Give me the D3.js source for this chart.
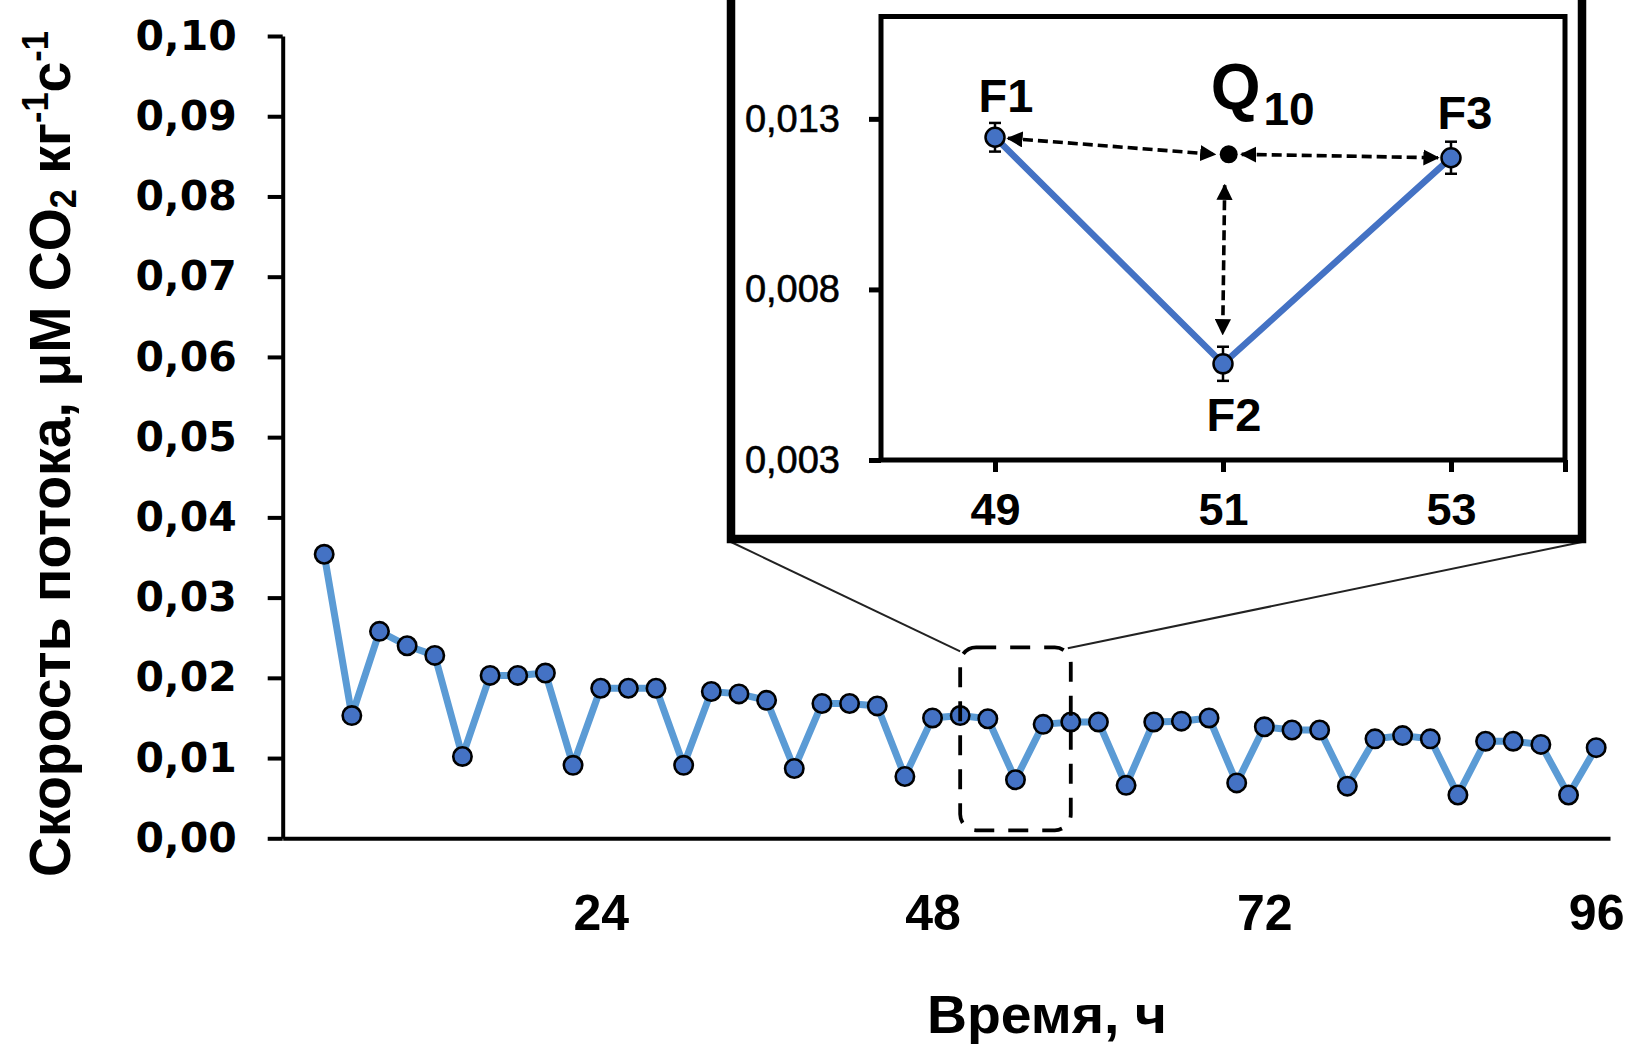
<!DOCTYPE html>
<html>
<head>
<meta charset="utf-8">
<script src="https://cdn.jsdelivr.net/npm/d3@7"></script>
<style>
  body { margin: 0; background: #fff; }
  svg { display: block; }
</style>
</head>
<body>
<script>
// main series: CO2 flux, every 2 h
var times = [4, 6, 8, 10, 12, 14, 16, 18, 20, 22, 24, 26, 28, 30, 32, 34, 36, 38, 40, 42, 44, 46, 48, 50,
  52, 54, 56, 58, 60, 62, 64, 66, 68, 70, 72, 74, 76, 78, 80, 82, 84, 86, 88, 90, 92, 94, 96];
var flux = [0.0354, 0.0153, 0.0258, 0.0240, 0.0228, 0.0102, 0.0203, 0.0203, 0.0206, 0.0091, 0.0187, 0.0187,
  0.0187, 0.0091, 0.0183, 0.0180, 0.0172, 0.0087, 0.0168, 0.0168, 0.0165, 0.0077, 0.0150, 0.0153,
  0.0149, 0.0073, 0.0142, 0.0145, 0.0145, 0.0066, 0.0145, 0.0146, 0.0150, 0.0069, 0.0139, 0.0135,
  0.0135, 0.0065, 0.0124, 0.0128, 0.0124, 0.0054, 0.0121, 0.0121, 0.0117, 0.0054, 0.0113];
var yTicks = [0, 0.01, 0.02, 0.03, 0.04, 0.05, 0.06, 0.07, 0.08, 0.09, 0.10];
var xTicks = [24, 48, 72, 96];

// zoomed region (dashed box)
var zoomTimes = [50, 58];
var zoomFlux = [0.001, 0.0238];

// inset: F1, F2, F3
var insetNames = ["F1", "F2", "F3"];
var insetTimes = [49, 51, 53];
var insetFlux = [0.01246, 0.00582, 0.01186];
var insetErr = [0.00042, 0.0005, 0.00047];
var insetYTicks = [0.003, 0.008, 0.013];
var insetXTicks = [49, 51, 53];
var q10 = [51.05, 0.01196];

var comma = function(f) { return function(d) { return d3.format(f)(d).replace(".", ","); }; };

var svg = d3.select("body").append("svg")
  .attr("width", 1627)
  .attr("height", 1045);

var x = d3.scaleLinear().domain([1, 97]).range([282.7, 1610]);
var y = d3.scaleLinear().domain([0, 0.10]).range([838.3, 36]);

// y axis
var yAxis = svg.append("g")
  .attr("transform", "translate(282.7,0)")
  .call(d3.axisLeft(y).tickValues(yTicks).tickSize(15).tickSizeOuter(0).tickPadding(31).tickFormat(comma(".2f")));
yAxis.selectAll("path, line").attr("stroke", "#000").attr("stroke-width", 4);
yAxis.selectAll("text")
  .attr("font-family", "DejaVu Sans")
  .attr("font-weight", "bold")
  .attr("font-size", 41)
  .attr("fill", "#000");

// x axis
var xAxis = svg.append("g")
  .attr("transform", "translate(0,838.3)")
  .call(d3.axisBottom(x).tickValues(xTicks).tickSize(0).tickSizeOuter(0).tickPadding(56));
xAxis.select("path").attr("stroke", "#000").attr("stroke-width", 4);
xAxis.selectAll("text")
  .attr("font-family", "Liberation Sans")
  .attr("font-weight", "bold")
  .attr("font-size", 50)
  .attr("fill", "#000");

var data = times.map(function(t, i) { return { t: t, v: flux[i] }; });

// line + markers
svg.append("path")
  .datum(data)
  .attr("fill", "none")
  .attr("stroke", "#5B9BD5")
  .attr("stroke-width", 7)
  .attr("stroke-linejoin", "round")
  .attr("d", d3.line().x(d => x(d.t)).y(d => y(d.v)));

svg.selectAll("circle.pt")
  .data(data)
  .enter()
  .append("circle")
  .attr("class", "pt")
  .attr("cx", d => x(d.t))
  .attr("cy", d => y(d.v))
  .attr("r", 9.2)
  .attr("fill", "#4472C4")
  .attr("stroke", "#000")
  .attr("stroke-width", 2.6);

// dashed zoom box
var bx0 = x(zoomTimes[0]), bx1 = x(zoomTimes[1]);
var by0 = y(zoomFlux[1]), by1 = y(zoomFlux[0]);
svg.append("rect")
  .attr("x", bx0).attr("y", by0)
  .attr("width", bx1 - bx0).attr("height", by1 - by0)
  .attr("rx", 16)
  .attr("fill", "none")
  .attr("stroke", "#000")
  .attr("stroke-width", 3.8)
  .attr("stroke-dasharray", "20,14");

// inset frame
var frame = { left: 731, right: 1582, bottom: 539 };
svg.append("line")
  .attr("x1", frame.left).attr("y1", frame.bottom + 3)
  .attr("x2", bx0).attr("y2", by0 + 4)
  .attr("stroke", "#222").attr("stroke-width", 2);
svg.append("line")
  .attr("x1", frame.right).attr("y1", frame.bottom + 3)
  .attr("x2", bx1 - 3).attr("y2", by0 + 1)
  .attr("stroke", "#222").attr("stroke-width", 2);

svg.append("rect")
  .attr("x", frame.left).attr("y", -20)
  .attr("width", frame.right - frame.left).attr("height", frame.bottom + 20)
  .attr("fill", "#fff")
  .attr("stroke", "#000")
  .attr("stroke-width", 8.5);

var ix = d3.scaleLinear().domain([48, 54]).range([881, 1565]);
var iy = d3.scaleLinear().domain([0.003, 0.016]).range([460, 16.5]);

var inset = svg.append("g");

inset.append("rect")
  .attr("x", ix(48)).attr("y", iy(0.016))
  .attr("width", ix(54) - ix(48)).attr("height", iy(0.003) - iy(0.016))
  .attr("fill", "none")
  .attr("stroke", "#000")
  .attr("stroke-width", 5);

var iyAxis = inset.append("g")
  .attr("transform", "translate(" + ix(48) + ",0)")
  .call(d3.axisLeft(iy).tickValues(insetYTicks).tickSize(12).tickSizeOuter(0).tickPadding(29).tickFormat(comma(".3f")));
iyAxis.select("path").remove();
iyAxis.selectAll("line").attr("stroke", "#000").attr("stroke-width", 5);
iyAxis.selectAll("text")
  .attr("font-family", "Liberation Sans")
  .attr("font-size", 38)
  .attr("stroke", "#000")
  .attr("stroke-width", 0.6)
  .attr("fill", "#000");

var ixAxis = inset.append("g")
  .attr("transform", "translate(0," + iy(0.003) + ")")
  .call(d3.axisBottom(ix).tickValues(insetXTicks.concat([54])).tickSize(12).tickSizeOuter(0).tickPadding(21).tickFormat(d => d === 54 ? "" : d));
ixAxis.select("path").remove();
ixAxis.selectAll("line").attr("stroke", "#000").attr("stroke-width", 5);
ixAxis.selectAll("text")
  .attr("font-family", "Liberation Sans")
  .attr("font-weight", "bold")
  .attr("font-size", 45)
  .attr("fill", "#000");

var idata = insetTimes.map(function(t, i) { return { t: t, v: insetFlux[i], e: insetErr[i], name: insetNames[i] }; });

inset.append("path")
  .datum(idata)
  .attr("fill", "none")
  .attr("stroke", "#4472C4")
  .attr("stroke-width", 6.5)
  .attr("d", d3.line().x(d => ix(d.t)).y(d => iy(d.v)));

// error bars
var eb = inset.selectAll("g.err").data(idata).enter().append("g").attr("class", "err")
  .attr("stroke", "#000").attr("stroke-width", 2.5);
eb.append("line")
  .attr("x1", d => ix(d.t)).attr("x2", d => ix(d.t))
  .attr("y1", d => iy(d.v + d.e)).attr("y2", d => iy(d.v - d.e));
eb.append("line")
  .attr("x1", d => ix(d.t) - 6).attr("x2", d => ix(d.t) + 6)
  .attr("y1", d => iy(d.v + d.e)).attr("y2", d => iy(d.v + d.e));
eb.append("line")
  .attr("x1", d => ix(d.t) - 6).attr("x2", d => ix(d.t) + 6)
  .attr("y1", d => iy(d.v - d.e)).attr("y2", d => iy(d.v - d.e));

inset.selectAll("circle.ipt")
  .data(idata)
  .enter()
  .append("circle")
  .attr("class", "ipt")
  .attr("cx", d => ix(d.t))
  .attr("cy", d => iy(d.v))
  .attr("r", 9.5)
  .attr("fill", "#4472C4")
  .attr("stroke", "#000")
  .attr("stroke-width", 2.5);

// labels F1..F3
var labelOffset = { F1: [11, -25], F2: [11, 67], F3: [14, -29] };
inset.selectAll("text.fl")
  .data(idata)
  .enter()
  .append("text")
  .attr("class", "fl")
  .attr("x", d => ix(d.t) + labelOffset[d.name][0])
  .attr("y", d => iy(d.v) + labelOffset[d.name][1])
  .attr("text-anchor", "middle")
  .attr("font-family", "Liberation Sans")
  .attr("font-weight", "bold")
  .attr("font-size", 47)
  .text(d => d.name);

// Q10 point + arrows
var qx = ix(q10[0]), qy = iy(q10[1]);
inset.append("circle").attr("cx", qx).attr("cy", qy).attr("r", 9).attr("fill", "#000");

var defs = svg.append("defs");
defs.append("marker")
  .attr("id", "arr")
  .attr("viewBox", "0 0 10 10")
  .attr("refX", 9).attr("refY", 5)
  .attr("markerWidth", 4.5).attr("markerHeight", 4.5)
  .attr("markerUnits", "strokeWidth")
  .attr("orient", "auto-start-reverse")
  .append("path").attr("d", "M0,0L10,5L0,10z").attr("fill", "#000");

function arrow(x1, y1, x2, y2) {
  inset.append("line")
    .attr("x1", x1).attr("y1", y1).attr("x2", x2).attr("y2", y2)
    .attr("stroke", "#000").attr("stroke-width", 3.6)
    .attr("stroke-dasharray", "10,5")
    .attr("marker-start", "url(#arr)")
    .attr("marker-end", "url(#arr)");
}
var f1 = idata[0], f2 = idata[1], f3 = idata[2];
arrow(ix(f1.t) + 13, iy(f1.v) + 1, qx - 14, qy);
arrow(qx + 13, qy, ix(f3.t) - 13, iy(f3.v));
arrow(qx - 4, qy + 31, qx - 6, iy(f2.v) - 30);

var qLabel = inset.append("text")
  .attr("x", qx - 18).attr("y", iy(0.013) - 10)
  .attr("font-family", "Liberation Sans")
  .attr("font-weight", "bold")
  .attr("font-size", 64);
qLabel.append("tspan").text("Q");
qLabel.append("tspan").attr("font-size", 46).attr("dy", 16).attr("dx", 3).text("10");

// axis titles
function fitText(sel, target) {
  var w = sel.node().getComputedTextLength();
  return target / w;
}

var xt = svg.append("text")
  .attr("text-anchor", "middle")
  .attr("font-family", "Liberation Sans")
  .attr("font-weight", "bold")
  .attr("font-size", 54)
  .text("Время, ч");
var kx = fitText(xt, 240);
xt.attr("transform", "translate(1047,1033) scale(" + kx + ",1)");

var yt = svg.append("text")
  .attr("text-anchor", "middle")
  .attr("font-family", "Liberation Sans")
  .attr("font-weight", "bold")
  .attr("font-size", 58);
yt.append("tspan").text("Скорость потока, μM CO");
yt.append("tspan").attr("font-size", 36).attr("dy", 6).text("2");
yt.append("tspan").attr("dy", -6).text(" кг");
yt.append("tspan").attr("font-size", 36).attr("dy", -22).text("-1");
yt.append("tspan").attr("dy", 22).text("с");
yt.append("tspan").attr("font-size", 36).attr("dy", -22).text("-1");
var ky = fitText(yt, 846);
yt.attr("transform", "translate(70,454) rotate(-90) scale(" + ky + ",1)");
</script>
</body>
</html>
